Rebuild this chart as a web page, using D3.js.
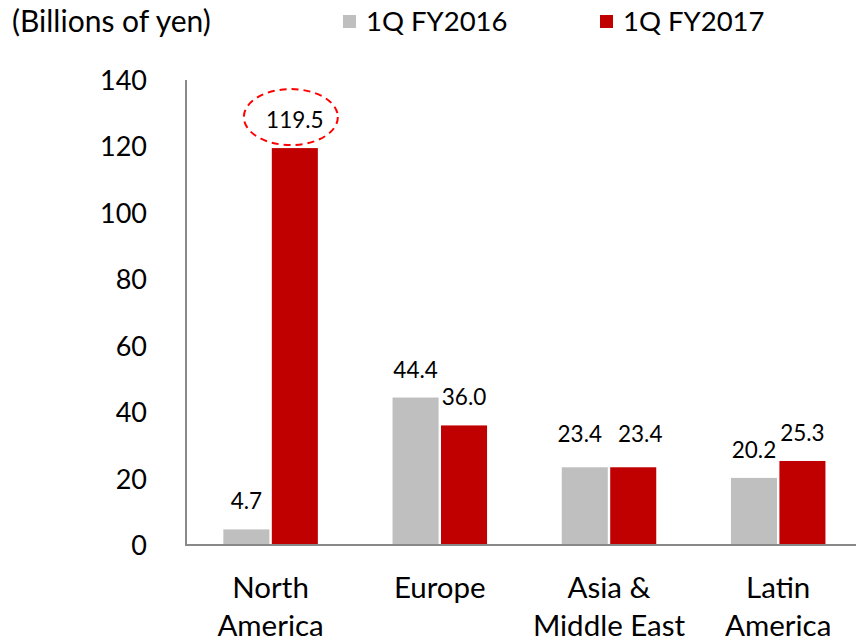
<!DOCTYPE html>
<html>
<head>
<meta charset="utf-8">
<script src="https://cdn.jsdelivr.net/npm/d3@7"></script>
<style>
  html, body { margin: 0; padding: 0; background: #fff; }
  svg { display: block; font-family: Lato, "Open Sans", sans-serif; }
</style>
</head>
<body>
<svg id="chart" width="856" height="640"></svg>
<script>
const categories = [["North", "America"], ["Europe"], ["Asia &", "Middle East"], ["Latin", "America"]];
const seriesNames = ["1Q FY2016", "1Q FY2017"];
const fy2016 = [4.7, 44.4, 23.4, 20.2];
const fy2017 = [119.5, 36.0, 23.4, 25.3];
const yTicks = [0, 20, 40, 60, 80, 100, 120, 140];
const unitLabel = "(Billions of yen)";
const highlightIndex = 0; // North America FY2017 circled

const colors = { "1Q FY2016": "#BFBFBF", "1Q FY2017": "#C00000" };
// label placement tweaks (style, not data): Asia labels sit a bit higher and spread apart
const labelNudge = { 2: { dy: -5, dx: [-5, 7] } };

const svg = d3.select("#chart");

const catKeys = categories.map(c => c.join(" "));
const x0 = d3.scaleBand().domain(catKeys).range([186, 186 + 4 * 169.2]).paddingInner(0).paddingOuter(0);
const x1 = d3.scaleBand().domain(seriesNames).range([-47.25, 47.25]).paddingInner(0.05).paddingOuter(0);
const y = d3.scaleLinear().domain([0, 140]).range([545, 80]);

const data = catKeys.map((k, i) => ({
  key: k,
  idx: i,
  values: [
    { s: seriesNames[0], v: fy2016[i], c: i, j: 0 },
    { s: seriesNames[1], v: fy2017[i], c: i, j: 1 }
  ]
}));

// bars
const g = svg.append("g");
const groups = g.selectAll("g.cat").data(data).join("g")
  .attr("class", "cat")
  .attr("transform", d => `translate(${x0(d.key) + x0.bandwidth() / 2},0)`);

groups.selectAll("rect").data(d => d.values).join("rect")
  .attr("x", d => x1(d.s))
  .attr("width", x1.bandwidth())
  .attr("y", d => y(d.v))
  .attr("height", d => y(0) - y(d.v))
  .attr("fill", d => colors[d.s]);

groups.selectAll("text.val").data(d => d.values).join("text")
  .attr("class", "val")
  .attr("x", d => x1(d.s) + x1.bandwidth() / 2 + (labelNudge[d.c] ? labelNudge[d.c].dx[d.j] : 0))
  .attr("y", d => y(d.v) - 20 + (labelNudge[d.c] ? labelNudge[d.c].dy : 0))
  .attr("text-anchor", "middle")
  .attr("font-size", 22.5)
  .attr("fill", "#000")
  .text(d => d.v.toFixed(1));

// highlight ellipse
{
  const d = data[highlightIndex];
  const cx = x0(d.key) + x0.bandwidth() / 2 + x1(seriesNames[1]) + x1.bandwidth() / 2 - 4;
  const cy = y(fy2017[highlightIndex]) - 31;
  svg.append("ellipse")
    .attr("cx", cx).attr("cy", cy)
    .attr("rx", 47).attr("ry", 28)
    .attr("fill", "none")
    .attr("stroke", "#FF0000")
    .attr("stroke-width", 2)
    .attr("stroke-dasharray", "7,5");
}

// axes lines
svg.append("line")
  .attr("x1", 186).attr("x2", 186)
  .attr("y1", y(140)).attr("y2", y(0))
  .attr("stroke", "#898989").attr("stroke-width", 2);
svg.append("line")
  .attr("x1", 185).attr("x2", 856)
  .attr("y1", y(0)).attr("y2", y(0))
  .attr("stroke", "#898989").attr("stroke-width", 2);

// y tick labels
const yAxis = d3.axisLeft(y).tickValues(yTicks).tickSize(0).tickPadding(0).tickFormat(d3.format("d"));
const ya = svg.append("g").attr("transform", "translate(147,0)").call(yAxis);
ya.select(".domain").remove();
ya.selectAll("text").attr("font-size", 27).attr("font-family", "Lato, 'Open Sans', sans-serif").attr("fill", "#000").attr("dy", "0.35em");

// category labels
const cl = svg.append("g");
data.forEach((d, i) => {
  const cx = x0(d.key) + x0.bandwidth() / 2;
  const t = cl.append("text")
    .attr("x", cx)
    .attr("y", 598)
    .attr("text-anchor", "middle")
    .attr("font-size", 29.5)
    .attr("fill", "#000");
  categories[i].forEach((line, j) => {
    t.append("tspan").attr("x", cx).attr("dy", j === 0 ? 0 : 38).text(line);
  });
});

// unit label
svg.append("text").attr("x", 12).attr("y", 32).attr("font-size", 30).attr("fill", "#000").text(unitLabel);

// legend
const legendX = [343, 600];
seriesNames.forEach((s, i) => {
  svg.append("rect").attr("x", legendX[i]).attr("y", 15).attr("width", 13).attr("height", 13).attr("fill", colors[s]);
  svg.append("text").attr("x", legendX[i] + 23).attr("y", 31).attr("font-size", 27.5).attr("fill", "#000").text(s);
});
</script>
</body>
</html>
